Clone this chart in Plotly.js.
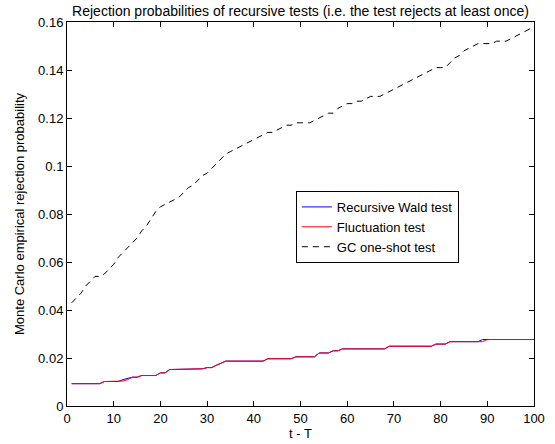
<!DOCTYPE html>
<html>
<head>
<meta charset="utf-8">
<script src="https://cdn.plot.ly/plotly-3.0.1.min.js"></script>
<style>html,body{margin:0;padding:0;background:#fff;}#chart{width:555px;height:444px;}</style>
</head>
<body>
<div id="chart"></div>
<script>
// t - T values
const tValues = [];
for (let i = 1; i <= 100; i++) tValues.push(i);

// Recursive Wald test
const waldValues = [
  0.0093,0.0093,0.0093,0.0093,0.0093,0.0093,0.0093,0.0102,0.0102,0.0102,
  0.0102,0.0110,0.0115,0.0120,0.0120,0.0127,0.0127,0.0127,0.0127,0.0138,
  0.0138,0.0152,0.0152,0.0152,0.0152,0.0152,0.0152,0.0152,0.0155,0.0160,
  0.0160,0.0170,0.0180,0.0187,0.0187,0.0187,0.0187,0.0187,0.0187,0.0187,
  0.0187,0.0187,0.0197,0.0197,0.0197,0.0197,0.0197,0.0197,0.0205,0.0205,
  0.0205,0.0205,0.0205,0.0221,0.0221,0.0221,0.0230,0.0230,0.0238,0.0238,
  0.0238,0.0238,0.0238,0.0238,0.0238,0.0238,0.0238,0.0238,0.0249,0.0249,
  0.0249,0.0249,0.0249,0.0249,0.0249,0.0249,0.0249,0.0249,0.0258,0.0258,
  0.0258,0.0268,0.0268,0.0268,0.0268,0.0268,0.0268,0.0268,0.0277,0.0277,
  0.0277,0.0277,0.0277,0.0277,0.0277,0.0277,0.0277,0.0277,0.0277,0.0277
];

// Fluctuation test
const flucValues = [
  0.0093,0.0093,0.0093,0.0093,0.0093,0.0093,0.0093,0.0102,0.0102,0.0102,
  0.0102,0.0104,0.0110,0.0120,0.0120,0.0127,0.0127,0.0127,0.0127,0.0138,
  0.0138,0.0152,0.0152,0.0152,0.0152,0.0152,0.0152,0.0152,0.0155,0.0160,
  0.0160,0.0170,0.0180,0.0187,0.0187,0.0187,0.0187,0.0187,0.0187,0.0187,
  0.0187,0.0187,0.0197,0.0197,0.0197,0.0197,0.0197,0.0197,0.0205,0.0205,
  0.0205,0.0205,0.0205,0.0221,0.0221,0.0221,0.0230,0.0230,0.0238,0.0238,
  0.0238,0.0238,0.0238,0.0238,0.0238,0.0238,0.0238,0.0238,0.0249,0.0249,
  0.0249,0.0249,0.0249,0.0249,0.0249,0.0249,0.0249,0.0249,0.0258,0.0258,
  0.0258,0.0268,0.0268,0.0268,0.0268,0.0268,0.0268,0.0268,0.0268,0.0277,
  0.0277,0.0277,0.0277,0.0277,0.0277,0.0277,0.0277,0.0277,0.0277,0.0277
];

// GC one-shot test
const gcValues = [
  0.043,0.045,0.047,0.050,0.052,0.054,0.054,0.055,0.057,0.059,
  0.062,0.064,0.066,0.068,0.070,0.073,0.075,0.078,0.081,0.083,
  0.084,0.085,0.086,0.087,0.089,0.091,0.092,0.094,0.096,0.097,
  0.099,0.101,0.103,0.105,0.106,0.107,0.108,0.109,0.110,0.111,
  0.112,0.113,0.114,0.114,0.115,0.116,0.117,0.117,0.118,0.118,
  0.118,0.118,0.119,0.120,0.121,0.122,0.122,0.124,0.125,0.126,
  0.126,0.127,0.127,0.128,0.129,0.129,0.129,0.130,0.131,0.132,
  0.133,0.134,0.135,0.136,0.137,0.138,0.139,0.140,0.141,0.141,
  0.141,0.143,0.145,0.146,0.148,0.149,0.150,0.151,0.151,0.151,
  0.151,0.152,0.152,0.152,0.153,0.154,0.155,0.156,0.157,0.158
];

const seriesNames = ['Recursive Wald test', 'Fluctuation test', 'GC one-shot test'];
const xTicks = [0,10,20,30,40,50,60,70,80,90,100];
const yTicks = [0,0.02,0.04,0.06,0.08,0.1,0.12,0.14,0.16];

const font = 'Liberation Sans, Arial, sans-serif';

const traces = [
  {x: tValues, y: waldValues, name: seriesNames[0], mode: 'lines', line: {color: '#0000ff', width: 1}},
  {x: tValues, y: flucValues, name: seriesNames[1], mode: 'lines', line: {color: '#ff0000', width: 1}},
  {x: tValues, y: gcValues, name: seriesNames[2], mode: 'lines', line: {color: '#000000', width: 1, dash: '6px,5px'}}
];

const axisCommon = {
  showline: true, linecolor: '#000', linewidth: 1, mirror: 'ticks',
  ticks: 'inside', ticklen: 5, tickcolor: '#000', tickwidth: 1,
  showgrid: false, zeroline: false,
  tickfont: {family: font, size: 13, color: '#000'}
};

const layout = {
  width: 555, height: 444,
  margin: {l: 67, r: 21, t: 22, b: 38},
  paper_bgcolor: '#fff', plot_bgcolor: '#fff',
  font: {family: font, color: '#000'},
  showlegend: true,
  title: {text: 'Rejection probabilities of recursive tests (i.e. the test rejects at least once)',
          font: {family: font, size: 14, color: '#000'},
          x: 0.5, xref: 'paper', xanchor: 'center', y: 1 - 11/444, yref: 'container', yanchor: 'middle'},
  xaxis: Object.assign({}, axisCommon, {
    range: [0, 100], tickvals: xTicks,
    title: {text: 't - T', font: {family: font, size: 13, color: '#000'}, standoff: 4}
  }),
  yaxis: Object.assign({}, axisCommon, {
    range: [0, 0.16], tickvals: yTicks,
    title: {text: 'Monte Carlo empirical rejection probability', font: {family: font, size: 13, color: '#000'}, standoff: 10}
  }),
  legend: {
    x: 0.49, y: 0.56, xanchor: 'left', yanchor: 'top',
    bordercolor: '#000', borderwidth: 1, bgcolor: '#fff',
    font: {family: font, size: 13, color: '#000'},
    tracegroupgap: 0, itemwidth: 30
  }
};

Plotly.newPlot('chart', traces, layout, {staticPlot: true, displayModeBar: false});
</script>
</body>
</html>
